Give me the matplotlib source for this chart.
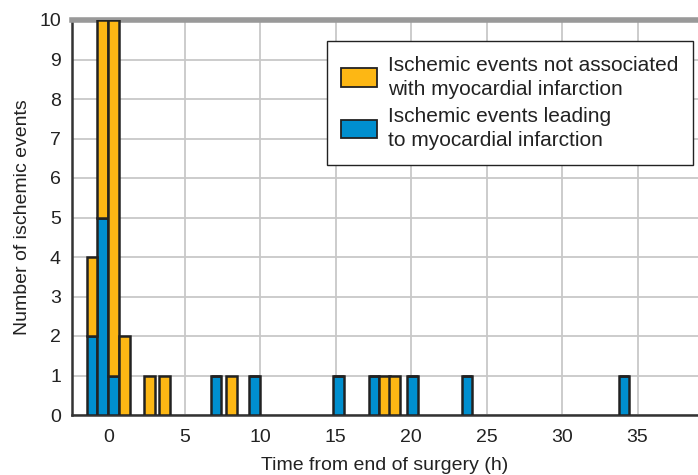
import numpy as np
import matplotlib
matplotlib.use("Agg")
import matplotlib.pyplot as plt
from matplotlib.patches import Patch

plt.rcParams['font.family'] = ['Liberation Sans', 'DejaVu Sans']

# bar centres (h after end of surgery) and counts per category
bin_centers = [-1.13, -0.42, 0.31, 1.03, 2.7, 3.69, 7.09, 8.1, 9.65, 15.2,
               17.54, 18.24, 18.9, 20.1, 23.7, 34.1]
mi_events = [2, 5, 1, 0, 0, 0, 1, 0, 1, 1, 1, 0, 0, 1, 1, 1]
non_mi_events = [2, 5, 9, 2, 1, 1, 0, 1, 0, 0, 0, 1, 1, 0, 0, 0]
bar_width = 0.7

orange = '#FDB714'
blue = '#008FCF'
ink = '#222222'

fig = plt.figure(figsize=(6.98, 4.75), dpi=100)
ax = fig.add_axes([72 / 698, 1 - 415 / 475, 1 - 72 / 698, 395 / 475])

x = np.array(bin_centers)
mi = np.array(mi_events)
non_mi = np.array(non_mi_events)
ax.bar(x, mi, width=bar_width, color=blue, edgecolor=ink, linewidth=1.8, zorder=3)
ax.bar(x, non_mi, width=bar_width, bottom=mi, color=orange, edgecolor=ink,
       linewidth=1.8, zorder=3)

ax.set_xlim(-2.45, 39.0)
ax.set_ylim(0, 10)
ax.set_xticks(np.arange(0, 40, 5))
ax.set_yticks(np.arange(0, 11, 1))
ax.tick_params(axis='x', length=0, labelsize=14, colors=ink, pad=10)
ax.tick_params(axis='y', length=0, labelsize=14, colors=ink, pad=8)
ax.grid(True, color='#c8c8c8', linewidth=1.3, zorder=0)

ax.spines['right'].set_visible(False)
ax.spines['top'].set_color('#999999')
ax.spines['top'].set_linewidth(4)
for side in ['left', 'bottom']:
    ax.spines[side].set_color('#333333')
    ax.spines[side].set_linewidth(1.8)

ax.set_xlabel('Time from end of surgery (h)', fontsize=14, color=ink, labelpad=8)
ax.set_ylabel('Number of ischemic events', fontsize=14, color=ink, labelpad=6)

handles = [Patch(facecolor=orange, edgecolor=ink, linewidth=1.3),
           Patch(facecolor=blue, edgecolor=ink, linewidth=1.3)]
labels = ['Ischemic events not associated\nwith myocardial infarction',
          'Ischemic events leading\nto myocardial infarction']
leg = ax.legend(handles, labels, loc='upper right', bbox_to_anchor=(0.992, 0.947),
                borderaxespad=0, fontsize=15, frameon=True, fancybox=False,
                framealpha=1, edgecolor=ink, handlelength=1.7, handleheight=1.0,
                labelspacing=0.4, borderpad=0.7, handletextpad=0.55)
leg.get_frame().set_linewidth(1.0)
for t in leg.get_texts():
    t.set_color(ink)
    t.set_linespacing(1.35)
leg.set_zorder(5)

fig.savefig('out.png', dpi=100)
